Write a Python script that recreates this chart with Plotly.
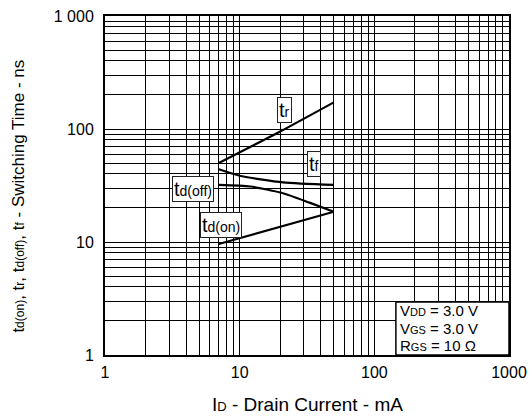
import math
import plotly.graph_objects as go

# Data
id_tr = [7, 20, 50]
t_r = [50, 95, 172]
id_tf = [7, 10, 21, 50]
t_f = [44, 38.6, 33.7, 32]
id_tdoff = [7, 12, 21, 33, 50]
t_doff = [32, 31, 27, 22.3, 18.5]
id_tdon = [7, 50]
t_don = [9.6, 18.5]

x_tickvals = [1, 10, 100, 1000]
x_ticktext = ["1", "10", "100", "1000"]
y_tickvals = [1, 10, 100, 1000]
y_ticktext = ["1", "10", "100", "1 000"]

FONT = "Liberation Sans, Arial, sans-serif"
fig = go.Figure()
for xs, ys in [(id_tr, t_r), (id_tf, t_f), (id_tdoff, t_doff), (id_tdon, t_don)]:
    fig.add_trace(go.Scatter(x=xs, y=ys, mode="lines",
                             line=dict(color="black", width=2.2, shape="spline", smoothing=0.6),
                             showlegend=False, hoverinfo="skip"))

axis_common = dict(
    type="log", showgrid=True, gridcolor="black", gridwidth=1,
    showline=True, linecolor="black", linewidth=2, mirror=True,
    ticks="", zeroline=False, automargin=False,
    tickfont=dict(family=FONT, size=16, color="black"),
    minor=dict(showgrid=True, gridcolor="black", gridwidth=1, dtick="D1", ticks=""),
)
fig.update_xaxes(range=[0, 3], tickvals=x_tickvals, ticktext=x_ticktext, ticklabelstandoff=2, **axis_common)
fig.update_yaxes(range=[0, 3], tickvals=y_tickvals, ticktext=y_ticktext, ticklabelstandoff=6, **axis_common)

def sub(main, s, size=14):
    return f"{main}<span style='font-size:{size}px'>{s}</span>"

labels = [
    (sub("t", "r"), 21.7, 148.6),
    (sub("t", "f"), 35.7, 48.7),
    (sub("t", "d(off)"), 4.52, 29.3),
    (sub("t", "d(on)"), 7.27, 14.2),
]
for txt, x, y in labels:
    fig.add_annotation(x=math.log10(x), y=math.log10(y), text=txt,
                       showarrow=False, bgcolor="white", bordercolor="#222", borderwidth=1,
                       borderpad=1, font=dict(family=FONT, size=20, color="black"))

# conditions box
fig.add_shape(type="rect", xref="paper", yref="paper", x0=0.72, x1=1.0, y0=0.0, y1=0.156,
              line=dict(color="black", width=1.5), fillcolor="white", layer="above")
cond_lines = [
    "V" + "<span style='font-size:11px'>DD</span>" + " = 3.0 V",
    "V" + "<span style='font-size:11px'>GS</span>" + " = 3.0 V",
    "R" + "<span style='font-size:11px'>GS</span>" + " = 10 Ω",
]
for i, line in enumerate(cond_lines):
    fig.add_annotation(xref="paper", yref="paper", x=0.728, y=0.130 - i * 0.0505,
                       xanchor="left", yanchor="middle", text=line, showarrow=False,
                       borderpad=0, font=dict(family=FONT, size=15, color="black"))

fig.add_annotation(xref="paper", yref="paper", x=0.5, y=-0.147, yanchor="middle",
                   text="I<span style='font-size:13px'>D</span> - Drain Current - mA",
                   showarrow=False, font=dict(family=FONT, size=19, color="black"))
fig.add_annotation(xref="paper", yref="paper", x=-0.213, y=0.47, xanchor="center",
                   textangle=-90,
                   text=sub("t", "d(on)", 12) + ", " + sub("t", "r", 12) + ", " + sub("t", "d(off)", 12) + ", "
                        + sub("t", "f", 12) + " - Switching Time - ns",
                   showarrow=False, font=dict(family=FONT, size=17, color="black"))

fig.update_layout(width=532, height=418, margin=dict(l=105, r=23, t=16, b=63),
                  plot_bgcolor="white", paper_bgcolor="white")
fig.write_html("out.html")
